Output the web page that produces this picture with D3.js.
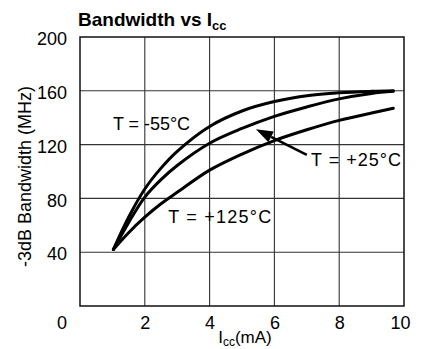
<!DOCTYPE html>
<html>
<head>
<meta charset="utf-8">
<script src="https://cdn.jsdelivr.net/npm/d3@7"></script>
<style>
  html, body { margin: 0; padding: 0; background: #fff; }
  svg { display: block; }
  text { font-family: "Liberation Sans", Arial, Helvetica, sans-serif; fill: #000; }
</style>
</head>
<body>
<svg id="chart" width="421" height="349"></svg>
<script>
// ---- data ----
const xTicks = [2, 4, 6, 8, 10];
const yTicks = [40, 80, 120, 160, 200];
const gridX = [2, 4, 6, 8];
const gridY = [40, 80, 120, 160];

const iccX    = [1.03, 1.5, 2, 2.5, 3, 4, 5, 6, 7, 8, 9, 9.67];
const bwM55   = [42, 66, 87, 102.5, 115, 133.5, 145, 152, 156.3, 158.5, 159.6, 160];
const bwP25   = [42, 62, 81, 94, 104.5, 121, 132, 141, 148, 154, 158, 159.6];
const bwP125  = [42, 54.5, 66, 76, 84.5, 101, 113, 123, 131, 138, 143.5, 147];

const seriesNames = ["T = -55°C", "T = +25°C", "T = +125°C"];
const labelX = [1.02, 7.13, 2.72];
const labelY = [130.5, 104, 61.5];
const labelLen = [77, 90, 103];
const arrowFrom = [7.0, 112.3];
const arrowTo = [5.43, 131.4];

// ---- layout ----
const svg = d3.select("#chart");
const W = 421, H = 349;
const m = { left: 80, right: 17, top: 37, bottom: 43 };
const x = d3.scaleLinear().domain([0, 10]).range([m.left, W - m.right]);
const y = d3.scaleLinear().domain([0, 200]).range([H - m.bottom, m.top]);

svg.append("rect").attr("width", W).attr("height", H).attr("fill", "#fff");

// grid
const g = svg.append("g");
g.selectAll("line.gx").data(gridX).join("line")
  .attr("x1", d => x(d)).attr("x2", d => x(d))
  .attr("y1", y(0)).attr("y2", y(200))
  .attr("stroke", "#333").attr("stroke-width", 1.1);
g.selectAll("line.gy").data(gridY).join("line")
  .attr("y1", d => y(d)).attr("y2", d => y(d))
  .attr("x1", x(0)).attr("x2", x(10))
  .attr("stroke", "#333").attr("stroke-width", 1.1);

// border
svg.append("rect")
  .attr("x", x(0)).attr("y", y(200))
  .attr("width", x(10) - x(0)).attr("height", y(0) - y(200))
  .attr("fill", "none").attr("stroke", "#111").attr("stroke-width", 1.5);

// axes (labels only)
const xAxis = d3.axisBottom(x).tickValues(xTicks).tickSize(0).tickPadding(10).tickFormat(d3.format("d"));
const gx = svg.append("g").attr("transform", `translate(0,${y(0)})`).call(xAxis);
gx.select(".domain").remove();
gx.selectAll("text").attr("font-size", 18).attr("font-family", "Liberation Sans, Arial, sans-serif").attr("fill", "#000");
gx.selectAll(".tick").filter(d => d === 10).select("text").attr("dx", -4);

const yAxis = d3.axisLeft(y).tickValues(yTicks).tickSize(0).tickPadding(13).tickFormat(d3.format("d"));
const gy = svg.append("g").attr("transform", `translate(${x(0)},2)`).call(yAxis);
gy.select(".domain").remove();
gy.selectAll("text").attr("font-size", 18).attr("font-family", "Liberation Sans, Arial, sans-serif").attr("fill", "#000");

// corner zero
svg.append("text")
  .attr("x", x(0) - 13).attr("y", y(0) + 10).attr("dy", "0.71em")
  .attr("text-anchor", "end").attr("font-size", 18).text("0");

// curves
const line = d3.line().x(d => x(d[0])).y(d => y(d[1])).curve(d3.curveCatmullRom.alpha(0.5));
[bwM55, bwP25, bwP125].forEach(vals => {
  svg.append("path")
    .datum(iccX.map((v, i) => [v, vals[i]]))
    .attr("d", line)
    .attr("fill", "none").attr("stroke", "#000")
    .attr("stroke-width", 3).attr("stroke-linecap", "round");
});

// series labels
seriesNames.forEach((name, i) => {
  svg.append("text")
    .attr("x", x(labelX[i])).attr("y", y(labelY[i]))
    .attr("font-size", 18)
    .attr("textLength", labelLen[i]).attr("lengthAdjust", "spacing")
    .text(name);
});

// arrow
const ax1 = x(arrowFrom[0]), ay1 = y(arrowFrom[1]);
const ax2 = x(arrowTo[0]), ay2 = y(arrowTo[1]);
const ang = Math.atan2(ay2 - ay1, ax2 - ax1);
const hl = 17, hw = 6;
const bx = ax2 - hl * Math.cos(ang), by = ay2 - hl * Math.sin(ang);
svg.append("line")
  .attr("x1", ax1).attr("y1", ay1).attr("x2", bx).attr("y2", by)
  .attr("stroke", "#000").attr("stroke-width", 2.5);
svg.append("polygon")
  .attr("points", [
    [ax2, ay2],
    [bx + hw * Math.sin(ang), by - hw * Math.cos(ang)],
    [bx - hw * Math.sin(ang), by + hw * Math.cos(ang)]
  ].map(p => p.join(",")).join(" "))
  .attr("fill", "#000");

// title
const t = svg.append("text").attr("x", 78).attr("y", 26)
  .attr("font-size", 19).attr("font-weight", "bold");
t.append("tspan").text("Bandwidth vs I");
t.append("tspan").attr("font-size", 13).attr("dy", 4).text("cc");

// y axis title
svg.append("text")
  .attr("transform", `translate(31,${(m.top + H - m.bottom) / 2 + 5}) rotate(-90)`)
  .attr("text-anchor", "middle").attr("font-size", 18)
  .text("-3dB Bandwidth (MHz)");

// x axis title
const xt = svg.append("text").attr("x", (x(0) + x(10)) / 2 + 3).attr("y", 343)
  .attr("text-anchor", "middle").attr("font-size", 17);
xt.append("tspan").text("I");
xt.append("tspan").attr("font-size", 12).attr("dy", 3).text("cc");
xt.append("tspan").attr("dy", -3).text("(mA)");
</script>
</body>
</html>
